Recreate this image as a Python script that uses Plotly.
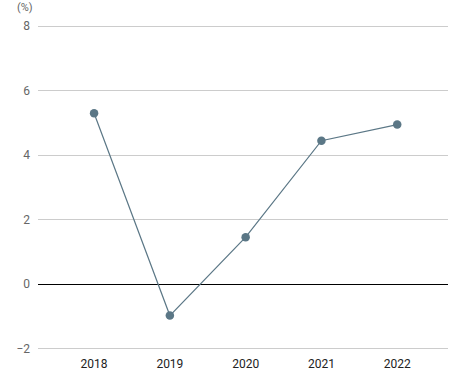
import plotly.graph_objects as go

years = ["2018", "2019", "2020", "2021", "2022"]
values = [5.3, -0.97, 1.46, 4.45, 4.95]
y_ticks = [-2, 0, 2, 4, 6, 8]

fig = go.Figure()
fig.add_trace(go.Scatter(
    x=years, y=values, mode="lines+markers",
    line=dict(color="#5b7786", width=1.2),
    marker=dict(color="#5b7786", size=8.5),
    showlegend=False,
    cliponaxis=False,
))

fig.update_layout(
    width=450, height=380,
    margin=dict(l=38, r=2, t=23, b=28),
    paper_bgcolor="white", plot_bgcolor="white",
    font=dict(family="Roboto", size=12, color="#222"),
    xaxis=dict(
        type="category", range=[-0.74, 4.67],
        showgrid=False, zeroline=False, showline=False,
        ticks="", tickfont=dict(color="#222", size=12),
        ticklabelstandoff=3,
    ),
    yaxis=dict(
        range=[-2.1, 8.1], tickvals=y_ticks,
        showgrid=True, gridcolor="#cccccc", gridwidth=1,
        zeroline=True, zerolinecolor="#000000", zerolinewidth=1.2,
        showline=False, ticks="", ticklabelstandoff=7,
        tickfont=dict(color="#666", size=12),
    ),
    annotations=[dict(
        text="(%)", xref="paper", yref="paper", x=0, y=1.0,
        xanchor="right", yanchor="middle", xshift=-3, yshift=16,
        showarrow=False, font=dict(color="#666", size=11),
    )],
)

fig.write_html(
    "out.html",
    config={"displayModeBar": False},
    post_script="document.body.style.margin='0';document.body.style.overflow='hidden';",
)
